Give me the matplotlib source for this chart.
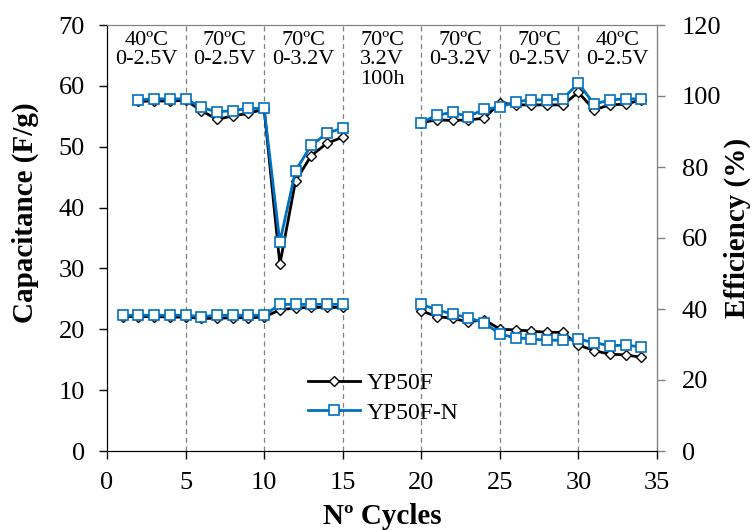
import matplotlib
matplotlib.use("Agg")
import matplotlib.pyplot as plt
import numpy as np

plt.rcParams['font.family'] = ['Liberation Serif', 'DejaVu Serif']

# Capacitance (F/g), left axis
cap_cycles_a = [1, 2, 3, 4, 5, 6, 7, 8, 9, 10, 11, 12, 13, 14, 15]
cap_cycles_b = [20, 21, 22, 23, 24, 25, 26, 27, 28, 29, 30, 31, 32, 33, 34]
cap_yp50f_a = [22.1, 22.1, 22.1, 22.0, 22.0, 21.8, 21.8, 21.9, 21.9, 22.0, 23.2, 23.5, 23.6, 23.6, 23.6]
cap_yp50f_b = [23.0, 22.1, 21.8, 21.2, 21.6, 20.0, 19.9, 19.7, 19.5, 19.5, 17.4, 16.5, 15.9, 15.8, 15.4]
cap_yp50fn_a = [22.3, 22.3, 22.3, 22.3, 22.3, 22.1, 22.3, 22.3, 22.3, 22.3, 24.1, 24.1, 24.1, 24.1, 24.1]
cap_yp50fn_b = [24.1, 23.2, 22.5, 21.9, 21.1, 19.2, 18.6, 18.4, 18.2, 18.2, 18.4, 17.8, 17.3, 17.4, 17.1]

# Efficiency (%), right axis
eff_cycles_a = [2, 3, 4, 5, 6, 7, 8, 9, 10, 11, 12, 13, 14, 15]
eff_cycles_b = [20, 21, 22, 23, 24, 25, 26, 27, 28, 29, 30, 31, 32, 33, 34]
eff_yp50f_a = [98.5, 98.6, 98.6, 98.8, 95.9, 93.4, 94.4, 95.1, 96.3, 52.6, 76.1, 83.2, 86.7, 88.4]
eff_yp50f_b = [92.5, 93.3, 93.1, 93.3, 93.7, 98.1, 97.5, 97.5, 97.5, 97.5, 101.0, 96.1, 97.5, 97.7, 98.9]
eff_yp50fn_a = [98.9, 99.2, 99.2, 99.2, 96.8, 95.5, 95.9, 96.5, 96.5, 58.8, 79.0, 86.1, 89.5, 91.0]
eff_yp50fn_b = [92.5, 94.6, 95.4, 94.2, 96.3, 96.8, 98.4, 98.9, 98.9, 99.2, 103.6, 97.7, 98.9, 99.2, 99.2]

segment_bounds = [5, 10, 15, 20, 25, 30]
segment_centers = [2.5, 7.5, 12.5, 17.5, 22.5, 27.5, 32.5]
segment_labels = ["40ºC\n0-2.5V", "70ºC\n0-2.5V", "70ºC\n0-3.2V", "70ºC\n3.2V\n100h",
                  "70ºC\n0-3.2V", "70ºC\n0-2.5V", "40ºC\n0-2.5V"]

BLUE = '#0070C0'
fig = plt.figure(figsize=(7.53, 5.30), dpi=100)
ax = fig.add_axes([107/753, 1-451/530, (657-107)/753, (451-25)/530])
ax2 = ax.twinx()

for b in segment_bounds:
    ax.axvline(b, color='#808080', linestyle=(0, (4, 3)), linewidth=0.9, zorder=0)

bk = dict(color='black', marker='D', markersize=5.5, markerfacecolor='white',
          markeredgecolor='black', markeredgewidth=1.0, linewidth=2.0)
bl = dict(color=BLUE, marker='s', markersize=7, markerfacecolor='white',
          markeredgecolor=BLUE, markeredgewidth=1.2, linewidth=2.0)

ax.plot(cap_cycles_a, cap_yp50f_a, **bk, label='YP50F')
ax.plot(cap_cycles_a, cap_yp50fn_a, **bl, label='YP50F-N')
ax.plot(cap_cycles_b, cap_yp50f_b, **bk)
ax.plot(cap_cycles_b, cap_yp50fn_b, **bl)

ax2.plot(eff_cycles_a, eff_yp50f_a, **bk)
ax2.plot(eff_cycles_a, eff_yp50fn_a, **bl)
ax2.plot(eff_cycles_b, eff_yp50f_b, **bk)
ax2.plot(eff_cycles_b, eff_yp50fn_b, **bl)

ax.set_xlim(0, 35)
ax.set_ylim(0, 70)
ax2.set_ylim(0, 120)
ax.set_xticks(range(0, 36, 5))
ax.set_yticks(range(0, 71, 10))
ax2.set_yticks(range(0, 121, 20))

for a in (ax, ax2):
    a.tick_params(labelsize=19, direction='out', length=6, width=1)
ax.tick_params(axis='y', pad=10)
ax.tick_params(axis='x', pad=9)
ax2.tick_params(axis='y', color='#808080', pad=12)
ax2.spines['right'].set_color('#808080')
ax2.spines['top'].set_color('#808080')
ax.spines['top'].set_color('#808080')

ax.set_xlabel('Nº Cycles', fontsize=21, fontweight='bold')
ax.set_ylabel('Capacitance (F/g)', fontsize=21, fontweight='bold')
ax2.set_ylabel('Efficiency (%)', fontsize=21, fontweight='bold')
ax.xaxis.label.set_va('center')
ax.yaxis.label.set_va('center')
ax2.yaxis.label.set_va('center')
ax.xaxis.set_label_coords(0.5, (451-516)/426)
ax.yaxis.set_label_coords((25-107)/550, (451-213)/426)
ax2.yaxis.set_label_coords((737-107)/550, (451-228)/426)

for xc, lab in zip(segment_centers, segment_labels):
    ax.text(xc, 69.0, lab, ha='center', va='top', fontsize=16, linespacing=1.02)

leg = ax.legend(loc='center left', bbox_to_anchor=((308-107)/550, (451-398)/426),
                frameon=False, fontsize=17, handlelength=2.2, handletextpad=0.3,
                labelspacing=0.35, borderaxespad=0, borderpad=0)

fig.savefig('out.png', dpi=100)
